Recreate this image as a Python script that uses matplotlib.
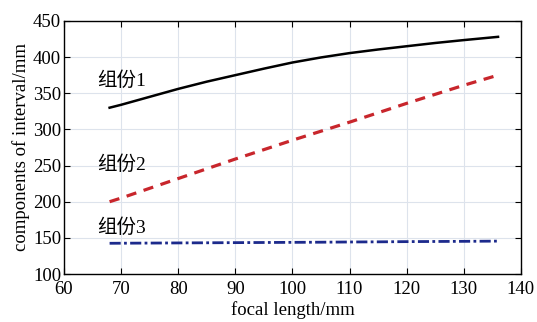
import numpy as np
import matplotlib
matplotlib.use('Agg')
import matplotlib.pyplot as plt

plt.rcParams['font.family'] = ['Liberation Serif', 'Noto Sans CJK SC']

# focal length samples (mm)
focal = [68, 70, 75, 80, 85, 90, 95, 100, 105, 110, 115, 120, 125, 130, 136]
# group 1, 2, 3 intervals (mm)
group1 = [330, 334, 345, 356, 366, 375, 384, 392.5, 399.5, 405.5, 410.5, 415, 419.5, 423.5, 428]
group2 = [200, 205, 218.5, 232, 245.5, 259, 272, 285, 297.5, 310, 323, 336, 348.5, 361, 375]
group3 = [142.5, 142.6, 142.8, 143.0, 143.2, 143.4, 143.6, 143.8, 144.0, 144.3, 144.5,
          144.8, 145.0, 145.2, 145.5]

labels = ['组份1', '组份2', '组份3']
label_pos = [(65.8, 368), (65.8, 251), (65.8, 164)]

fig = plt.figure(figsize=(5.37, 3.22), dpi=100)
ax = fig.add_axes([0.119, 0.149, 0.851, 0.786])

ax.plot(focal, group1, color='black', lw=1.8, ls='-')
ax.plot(focal, group2, color='#c8262c', lw=2.3, ls=(0, (3.2, 2.4)))
ax.plot(focal, group3, color='#1c2a8c', lw=2.0, ls=(0, (4, 1.2, 1, 1.2)))

for t, (x, y) in zip(labels, label_pos):
    ax.text(x, y, t, fontsize=14, va='center', ha='left')

ax.set_xlim(60, 140)
ax.set_ylim(100, 450)
ax.set_xticks(np.arange(60, 141, 10))
ax.set_yticks(np.arange(100, 451, 50))
ax.grid(True, color='#dde3ec', lw=0.8)
ax.tick_params(direction='in', top=True, right=True, labelsize=13.5, length=4)
ax.tick_params(axis='x', pad=5)
ax.tick_params(axis='y', pad=2)
for s in ax.spines.values():
    s.set_linewidth(1.0)
ax.set_xlabel('focal length/mm', fontsize=13.5, labelpad=2)
ax.set_ylabel('components of interval/mm', fontsize=13.5, labelpad=2)

fig.savefig('out.png', dpi=100)
